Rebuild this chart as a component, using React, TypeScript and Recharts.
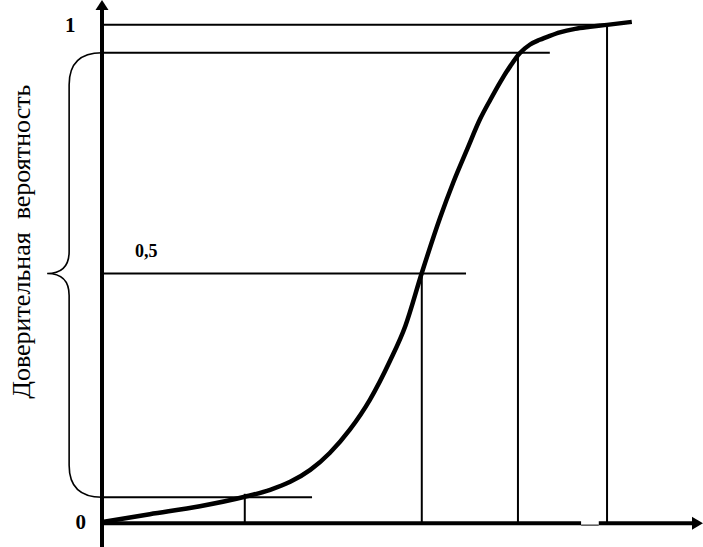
import React from "react";
import { ComposedChart, Line, XAxis, YAxis, ReferenceLine, ReferenceDot, ReferenceArea } from "recharts";

// curve (x in 0..100 units, y = confidence probability)
const curveX = [0, 8.1, 16.6, 24.2, 28.5, 31.9, 35.3, 38.6, 42.0, 45.4, 48.8, 51.4, 54.2, 57.3, 59.5, 61.9, 64.1, 65.8, 67.5, 69.2, 70.8, 72.5, 74.2, 75.9, 77.6, 80.2, 82.7, 85.6, 89.8];
const curveY = [0, 0.016, 0.032, 0.051, 0.065, 0.081, 0.105, 0.139, 0.186, 0.246, 0.324, 0.394, 0.501, 0.612, 0.682, 0.75, 0.811, 0.849, 0.885, 0.917, 0.943, 0.96, 0.97, 0.978, 0.985, 0.992, 0.996, 1.0, 1.006];

// guide levels and where they meet the curve
const levels = [1.0, 0.944, 0.5, 0.05];
const levelEnds = [84.4, 75.9, 61.7, 35.6];
const dropX = [24.2, 54.2, 70.5, 85.6];
const dropTop = [0.057, 0.5, 0.944, 1.0];

const yLabel = "Доверительная\u00a0\u00a0вероятность";

const data = curveX.map((x, i) => ({ x, p: curveY[i] }));

const FONT = "'Liberation Serif', 'Times New Roman', serif";

function Brace(props: any) {
  const { x, y, width, height } = props;
  const x0 = x;
  const xr = x + width;
  const xv = x + 22;
  const ym = y + height * ((0.944 - 0.5) / (0.944 - 0.05));
  const yb = y + height;
  const r = 32;
  const d = `M ${xr} ${y} Q ${xv} ${y} ${xv} ${y + r} L ${xv} ${ym - 22} Q ${xv} ${ym} ${x0} ${ym} Q ${xv} ${ym} ${xv} ${ym + 22} L ${xv} ${yb - r} Q ${xv} ${yb} ${xr} ${yb}`;
  return <path d={d} fill="none" stroke="#000" strokeWidth={1.6} />;
}

const txt = (s: string, size: number, anchor: string, dy: number) => (p: any) => (
  <text x={p.cx} y={p.cy + dy} fontFamily={FONT} fontWeight="bold" fontSize={size} textAnchor={anchor} fill="#000">
    {s}
  </text>
);

export default function App() {
  return (
    <div style={{ width: 703, height: 547, position: "relative" }}>
      <style>{"body{margin:0}"}</style>
      <ComposedChart width={703} height={547} data={data} margin={{ top: 0, right: 11, bottom: 0, left: 102 }}>
        <XAxis type="number" dataKey="x" domain={[0, 100]} hide />
        <YAxis type="number" domain={[-0.05, 1.05]} hide />

        {levels.map((v, i) => (
          <ReferenceLine key={"h" + i} segment={[{ x: 0, y: v }, { x: levelEnds[i], y: v }]} stroke="#000" strokeWidth={2} ifOverflow="visible" />
        ))}
        {dropX.map((x, i) => (
          <ReferenceLine key={"v" + i} segment={[{ x, y: dropTop[i] }, { x, y: 0 }]} stroke="#000" strokeWidth={2} ifOverflow="visible" />
        ))}

        <ReferenceArea x1={-9.3} x2={0} y1={0.05} y2={0.944} ifOverflow="visible" shape={<Brace />} />

        {/* axes */}
        <ReferenceLine segment={[{ x: 0, y: -0.05 }, { x: 0, y: 1.034 }]} stroke="#000" strokeWidth={4} ifOverflow="visible" />
        <ReferenceLine segment={[{ x: -0.3, y: -0.002 }, { x: 81.2, y: -0.002 }]} stroke="#000" strokeWidth={4} ifOverflow="visible" />
        <ReferenceLine segment={[{ x: 81.2, y: -0.006 }, { x: 84.2, y: -0.006 }]} stroke="#000" strokeWidth={1} ifOverflow="visible" />
        <ReferenceLine segment={[{ x: 84.2, y: -0.002 }, { x: 100, y: -0.002 }]} stroke="#000" strokeWidth={4} ifOverflow="visible" />
        <ReferenceDot x={0} y={1.05} ifOverflow="visible"
          shape={(p: any) => <polygon points={`${p.cx},${p.cy} ${p.cx - 6.5},${p.cy + 10} ${p.cx + 6.5},${p.cy + 10}`} fill="#000" />} />
        <ReferenceDot x={101.86} y={-0.002} ifOverflow="visible"
          shape={(p: any) => <polygon points={`${p.cx},${p.cy} ${p.cx - 11},${p.cy - 6.5} ${p.cx - 11},${p.cy + 6.5}`} fill="#000" />} />

        <Line type="monotone" dataKey="p" stroke="#000" strokeWidth={4.5} dot={false} activeDot={false} isAnimationActive={false} />

        <ReferenceDot x={-5.4} y={1} ifOverflow="visible" shape={txt("1", 21, "middle", 7)} />
        <ReferenceDot x={-3.6} y={0} ifOverflow="visible" shape={txt("0", 21, "middle", 7)} />
        <ReferenceDot x={5.6} y={0.5} ifOverflow="visible" shape={txt("0,5", 18, "start", -17)} />
        <ReferenceDot x={-12.2} y={0.564} ifOverflow="visible"
          shape={(p: any) => (
            <text x={p.cx} y={p.cy} transform={`rotate(-90 ${p.cx} ${p.cy})`} fontFamily={FONT} fontSize={26} textAnchor="middle" fill="#000">
              {yLabel}
            </text>
          )} />
      </ComposedChart>
    </div>
  );
}
